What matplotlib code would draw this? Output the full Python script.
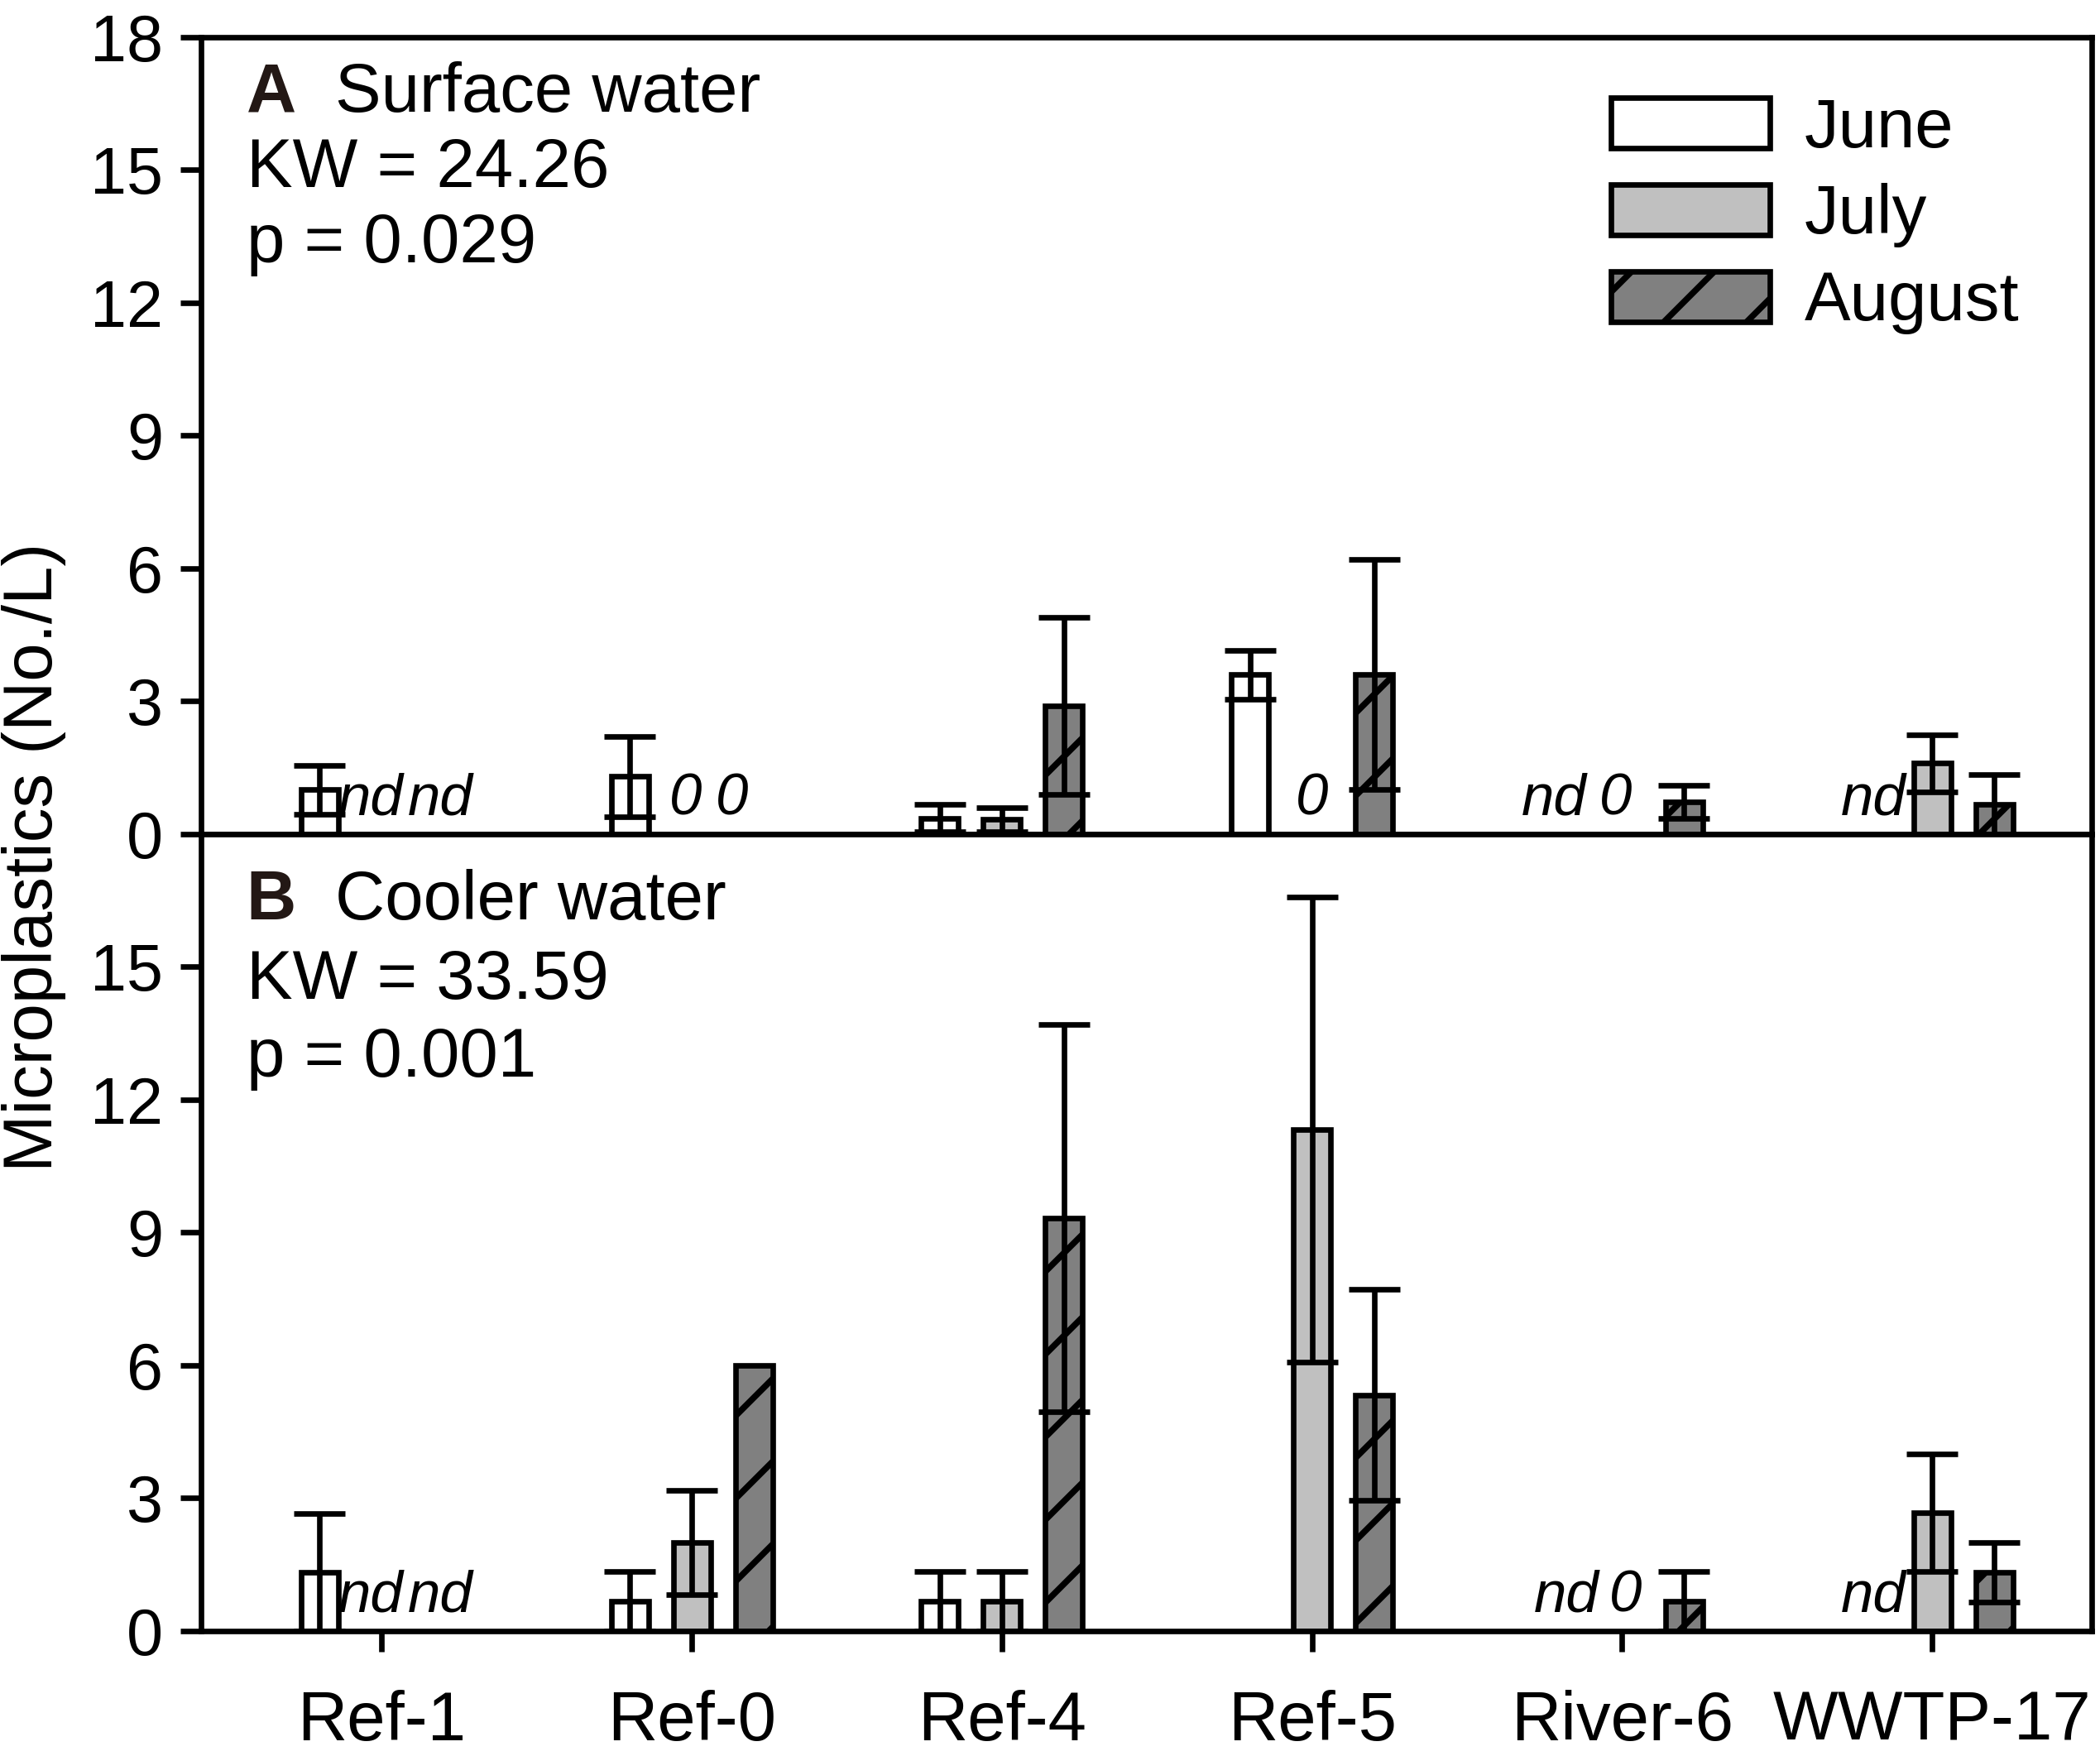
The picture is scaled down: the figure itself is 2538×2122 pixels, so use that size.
import matplotlib
matplotlib.use('Agg')
import matplotlib.pyplot as plt
import numpy as np

plt.rcParams['font.family'] = ['Liberation Sans', 'DejaVu Sans']
plt.rcParams['hatch.linewidth'] = 1.8

nan = np.nan

# sites on the x axis
sites = ['Ref-1', 'Ref-0', 'Ref-4', 'Ref-5', 'River-6', 'WWTP-17']
months = ['June', 'July', 'August']

# A: surface water (mean, sd) ; nan = nd or 0 (written as text)
june_a = [1.0, 1.3, 0.36, 3.6, nan, nan]
june_a_sd = [0.55, 0.9, 0.31, 0.55, nan, nan]
july_a = [nan, nan, 0.33, nan, nan, 1.6]
july_a_sd = [nan, nan, 0.27, nan, nan, 0.65]
aug_a = [nan, nan, 2.9, 3.6, 0.73, 0.67]
aug_a_sd = [nan, nan, 2.0, 2.6, 0.38, 0.67]

# B: cooler water
june_b = [1.33, 0.67, 0.67, nan, nan, nan]
june_b_sd = [1.33, 0.67, 0.67, nan, nan, nan]
july_b = [nan, 2.0, 0.67, 11.33, nan, 2.67]
july_b_sd = [nan, 1.17, 0.67, 5.25, nan, 1.33]
aug_b = [nan, 6.0, 9.33, 5.33, 0.67, 1.33]
aug_b_sd = [nan, nan, 4.37, 2.38, 0.67, 0.67]

# text marks for empty bars: (site, month, text, small x shift)
notes_a = [(0, 1, 'nd', -0.035), (0, 2, 'nd', -0.01), (1, 1, '0', -0.02),
           (1, 2, '0', -0.07), (3, 1, '0', 0.0), (4, 0, 'nd', -0.02),
           (4, 1, '0', -0.02), (5, 0, 'nd', 0.01)]
notes_b = [(0, 1, 'nd', -0.035), (0, 2, 'nd', -0.01), (4, 0, 'nd', 0.02),
           (4, 1, '0', 0.01), (5, 0, 'nd', 0.01)]

stats_a = ('A', 'Surface water', 'KW = 24.26', 'p = 0.029')
stats_b = ('B', 'Cooler water', 'KW = 33.59', 'p = 0.001')

colors = ['white', '#c0c0c0', '#808080']
hatches = [None, None, '/']
offsets = [-0.2, 0.0, 0.2]

fig = plt.figure(figsize=(2538 / 300, 2122 / 300), dpi=300)
ax_a = fig.add_axes([0.0957, 0.525, 0.9003, 0.454])
ax_b = fig.add_axes([0.0957, 0.0712, 0.9003, 0.4538])

x = np.arange(len(sites))
lw = 1.6
fs = 20


def draw_panel(ax, series, sds, notes, stats, yticks, ys):
    handles = []
    for k in range(3):
        h = ax.bar(x + offsets[k], series[k], 0.12, color=colors[k],
                   edgecolor='black', linewidth=lw, hatch=hatches[k],
                   label=months[k], zorder=2)
        handles.append(h)
        ax.errorbar(x + offsets[k], series[k], yerr=sds[k], fmt='none',
                    ecolor='black', elinewidth=lw, capsize=7.5,
                    capthick=lw, zorder=3)
    for (i, k, t, dx) in notes:
        ax.text(x[i] + offsets[k] + dx, 0.15, t, ha='center',
                va='bottom', fontsize=17, style='italic')
    ax.text(0.024, ys[0], stats[0], transform=ax.transAxes, fontsize=fs,
            fontweight='bold', color='#231815', va='baseline')
    ax.text(0.071, ys[0], stats[1], transform=ax.transAxes, fontsize=fs,
            va='baseline')
    ax.text(0.024, ys[1], stats[2], transform=ax.transAxes, fontsize=fs,
            va='baseline')
    ax.text(0.024, ys[2], stats[3], transform=ax.transAxes, fontsize=fs,
            va='baseline')
    ax.set_xlim(-0.583, 5.514)
    ax.set_ylim(0, 18)
    ax.set_yticks(yticks)
    ax.set_xticks(x)
    ax.tick_params(direction='out', length=6, width=lw, labelsize=fs,
                   pad=5)
    ax.tick_params(axis='y', labelsize=19)
    for s in ax.spines.values():
        s.set_linewidth(lw)
    return handles


handles = draw_panel(ax_a, [june_a, july_a, aug_a],
                     [june_a_sd, july_a_sd, aug_a_sd], notes_a, stats_a,
                     np.arange(0, 19, 3), (0.906, 0.812, 0.717))
draw_panel(ax_b, [june_b, july_b, aug_b], [june_b_sd, july_b_sd, aug_b_sd],
           notes_b, stats_b, np.arange(0, 16, 3), (0.893, 0.793, 0.696))

ax_a.set_xticklabels([])
ax_b.set_xticklabels(sites)
ax_b.tick_params(axis='x', pad=11)

ax_a.legend(handles=handles, loc='upper left',
            bbox_to_anchor=(0.746, 0.925), fontsize=fs, frameon=False,
            handlelength=2.3, handleheight=0.75, labelspacing=0.32,
            handletextpad=0.5, borderpad=0, borderaxespad=0)

fig.text(0.016, 0.512, 'Microplastics (No./L)', rotation=90, fontsize=fs,
         ha='center', va='center')

fig.savefig('out.png', dpi=300)
